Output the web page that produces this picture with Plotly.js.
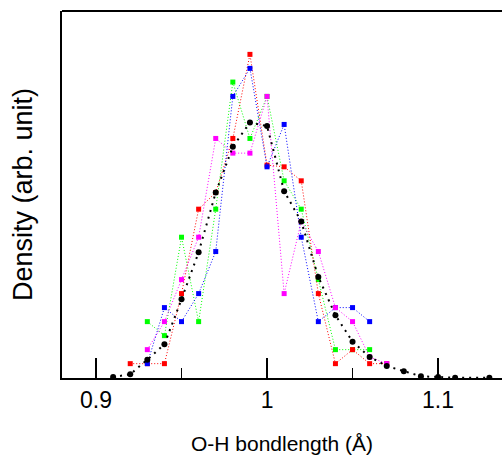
<!DOCTYPE html>
<html>
<head>
<meta charset="utf-8">
<script src="https://cdn.plot.ly/plotly-3.0.1.min.js"></script>
<style>
html,body{margin:0;padding:0;background:#fff;overflow:hidden;}
#chart{width:502px;height:455px;}
</style>
</head>
<body>
<div id="chart"></div>
<script>
// O-H bond length bins (Å)
var bondRed     = [0.92,0.93,0.94,0.95,0.96,0.97,0.98,0.99,1.00,1.01,1.02,1.03,1.04,1.05,1.06,1.07];
var densRed     = [43,43,43,253,506,556,718,970,638,633,591,253,43,85,43,43];

var bondGreen   = [0.93,0.94,0.95,0.96,0.97,0.98,0.99,1.00,1.01,1.02,1.03,1.04,1.05,1.06];
var densGreen   = [169,127,422,169,506,887,718,844,591,506,295,85,85,85];

var bondBlue    = [0.93,0.94,0.95,0.96,0.97,0.98,0.99,1.00,1.01,1.02,1.03,1.04,1.05,1.06];
var densBlue    = [43,211,169,253,379,844,928,633,760,422,169,211,211,169];

var bondMagenta = [0.93,0.94,0.95,0.96,0.97,0.98,0.99,1.00,1.01,1.02,1.03,1.04,1.05,1.06,1.07];
var densMagenta = [85,169,295,422,718,674,674,844,253,469,379,211,169,63,43];

var bondAvg     = [0.91,0.92,0.93,0.94,0.95,0.96,0.97,0.98,0.99,1.00,1.01,1.02,1.03,1.04,1.05,1.06,1.07,1.08,1.09,1.10,1.11,1.13];
var densAvg     = [3,11,55,101,236,377,556,693,766,755,560,469,303,188,109,63,36,20,5,3,1,1];

var xTitle = 'O-H bondlength (Å)';
var yTitle = 'Density (arb. unit)';

function colored(x, y, c) {
  return {
    x: x, y: y, type: 'scatter', mode: 'lines+markers',
    line: {color: c, width: 1, dash: '1px,2px'},
    marker: {symbol: 'square', size: 5, color: c, line: {width: 0}},
    hoverinfo: 'x+y', showlegend: false
  };
}

var traces = [
  colored(bondGreen, densGreen, '#00ff00'),
  colored(bondRed, densRed, '#ff0000'),
  colored(bondBlue, densBlue, '#0000ff'),
  colored(bondMagenta, densMagenta, '#ff00ff'),
  {
    x: bondAvg, y: densAvg, type: 'scatter', mode: 'lines+markers',
    line: {color: '#000000', width: 2, dash: '2px,5px'},
    marker: {symbol: 'circle', size: 6, color: '#000000'},
    showlegend: false
  }
];

var layout = {
  width: 502, height: 455,
  margin: {l: 62, r: 0, t: 11, b: 77, pad: 0},
  paper_bgcolor: '#ffffff', plot_bgcolor: '#ffffff',
  font: {family: '"Liberation Sans", Arial, sans-serif', color: '#000000'},
  showlegend: false,
  xaxis: {
    range: [0.8801, 1.1374],
    dtick: 0.1, tick0: 0.9,
    ticks: 'inside', ticklen: 20, tickwidth: 1.5, tickcolor: '#000',
    minor: {dtick: 0.05, tick0: 0.9, ticks: 'inside', ticklen: 10, tickwidth: 1.5, tickcolor: '#000', showgrid: false},
    showgrid: false, zeroline: false,
    showline: true, linewidth: 2, linecolor: '#000',
    tickfont: {size: 23, color: '#000'},
    title: {text: xTitle, font: {size: 21, color: '#000'}, standoff: 26}
  },
  yaxis: {
    range: [0, 1100],
    showticklabels: false, ticks: '',
    showgrid: false, zeroline: false,
    showline: true, linewidth: 2, linecolor: '#000',
    title: {text: yTitle, font: {size: 27, color: '#000'}, standoff: 20}
  },
  shapes: [
    {type: 'line', xref: 'paper', yref: 'paper', x0: 0, x1: 1, y0: 1, y1: 1,
     line: {color: '#000', width: 2}}
  ]
};

Plotly.newPlot('chart', traces, layout, {displayModeBar: false, staticPlot: true});
</script>
</body>
</html>
